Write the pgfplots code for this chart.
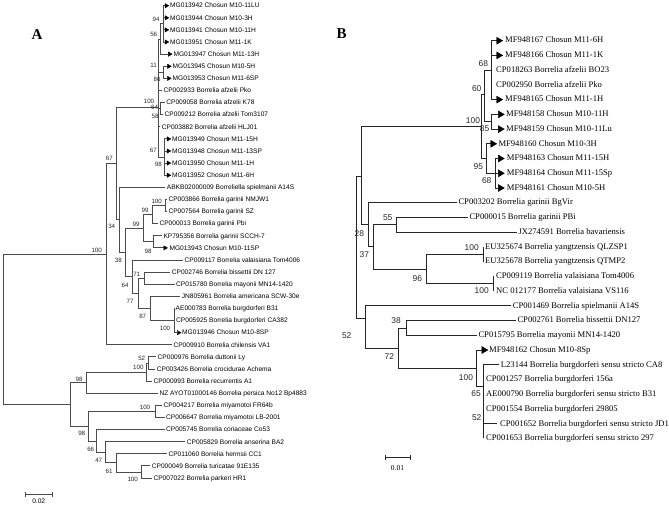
\documentclass[border=0pt]{standalone}
\usepackage{pgfplots}
\pgfplotsset{compat=1.18}
\usepackage{fontspec}
\setmainfont{Liberation Serif}
\setsansfont{Liberation Sans}
\newcommand\fA{\sffamily\fontsize{6.6}{7}\selectfont}
\newcommand\fAn{\sffamily\fontsize{6.2}{7}\selectfont}
\newcommand\fB{\rmfamily\fontsize{8.6}{9}\selectfont}
\newcommand\fBn{\sffamily\fontsize{8.4}{9}\selectfont}
% leaf names and bootstrap values, placed in axis units (= pixels of the reference)
\newcommand\leafA[3]{\node[anchor=mid west,inner sep=0,font=\fA] at (axis cs:#1,#2) {#3};}
\newcommand\leafB[3]{\node[anchor=mid west,inner sep=0,font=\fB] at (axis cs:#1,#2) {#3};}
\newcommand\bsA[3]{\node[inner sep=0,font=\fAn,text=black!85] at (axis cs:#1,#2) {#3};}
\newcommand\bsB[3]{\node[inner sep=0,font=\fBn,text=black!85] at (axis cs:#1,#2) {#3};}
\begin{document}
\begin{tikzpicture}
\begin{axis}[
  width=669pt, height=506pt, scale only axis,
  xmin=0, xmax=669, ymin=0, ymax=506, y dir=reverse,
  hide axis, clip=false, unbounded coords=jump,
]
% ---------------- panel A: branches
\addplot[black!70, line width=0.9pt] coordinates {
 (106,254.2)(3.3,254.2)(3.3,404.4)(70,404.4) (nan,nan)
 (116,163.6)(106,163.6)(106,344.8)(171.5,344.8) (nan,nan)
 (158.3,107.3)(116,107.3)(116,219.9)(119.3,219.9) (nan,nan)
 (165,187.4)(119.3,187.4)(119.3,252.4)(125,252.4) (nan,nan)
 (143.3,228.2)(125,228.2)(125,276.5)(132.7,276.5) (nan,nan)
 (152.5,214.6)(143.3,214.6)(143.3,241.8)(153,241.8) (nan,nan)
 (165.7,205.5)(152.5,205.5)(152.5,223.7)(157.8,223.7) (nan,nan)
 (167,199.5)(165.7,199.5)(165.7,211.6)(167,211.6) (nan,nan)
 (161.5,235.8)(153,235.8)(153,247.9)(163.8,247.9) (nan,nan)
 (183,260)(132.7,260)(132.7,293.3)(138.3,293.3) (nan,nan)
 (144,278.2)(138.3,278.2)(138.3,308.4)(150,308.4) (nan,nan)
 (170,272.1)(144,272.1)(144,284.2)(174.5,284.2) (nan,nan)
 (180,296.3)(150,296.3)(150,320.6)(174,320.6) (nan,nan)
 (174,308.4)(174,332.7)(177.3,332.7) (nan,nan)
 (158.3,39)(158.3,157) (nan,nan)
 (158.3,39)(160.5,39) (nan,nan)
 (163.3,23.85)(160.5,23.85)(160.5,54.1)(168.3,54.1) (nan,nan)
 (163.3,5.7)(163.3,42.0) (nan,nan)
 (163.3,5.7)(165,5.7) (nan,nan) (163.3,17.8)(165,17.8) (nan,nan)
 (163.3,29.9)(165,29.9) (nan,nan) (163.3,42.0)(165,42.0) (nan,nan)
 (158.3,72.3)(163.3,72.3) (nan,nan)
 (167.5,66.3)(163.3,66.3)(163.3,78.4)(167.5,78.4) (nan,nan)
 (158.3,90.5)(161.7,90.5) (nan,nan)
 (158.3,108.7)(160.7,108.7) (nan,nan)
 (164.5,102.6)(160.7,102.6)(160.7,114.7)(163,114.7) (nan,nan)
 (158.3,126.8)(160,126.8) (nan,nan)
 (158.3,157)(164.3,157) (nan,nan)
 (167,138.9)(164.3,138.9)(164.3,175.2)(167,175.2) (nan,nan)
 (164.3,151.0)(167,151.0) (nan,nan) (164.3,163.1)(167,163.1) (nan,nan)
 (86,382.6)(70,382.6)(70,426.2)(88.3,426.2) (nan,nan)
 (146.7,372)(86,372)(86,393.2)(157.5,393.2) (nan,nan)
 (148.3,363)(146.7,363)(146.7,381.1)(152,381.1) (nan,nan)
 (156,356.9)(148.3,356.9)(148.3,369)(155,369) (nan,nan)
 (155,411.4)(88.3,411.4)(88.3,441)(96.7,441) (nan,nan)
 (161.5,405.3)(155,405.3)(155,417.4)(164.5,417.4) (nan,nan)
 (164.5,429.6)(96.7,429.6)(96.7,452.3)(105,452.3) (nan,nan)
 (185,441.7)(105,441.7)(105,462.9)(116,462.9) (nan,nan)
 (166.7,453.8)(116,453.8)(116,472)(141.7,472) (nan,nan)
 (150,465.9)(141.7,465.9)(141.7,478)(151.7,478) (nan,nan)
 (25,494.3)(52.3,494.3) (nan,nan) (25,492)(25,496.6) (nan,nan) (52.3,492)(52.3,496.6)
};
\addplot[only marks, mark=triangle*, mark size=2.5pt, black,
  every mark/.append style={rotate=-90}] coordinates {
 (166.3,5.7)(166.3,17.8)(166.3,29.9)(166.3,42.0)(169.6,54.1)
 (168.7,66.3)(168.7,78.4)
 (168.3,138.9)(168.3,151.0)(168.3,163.1)(168.3,175.2)
 (165,247.9)(178.5,332.7)
};
% ---------------- panel B: branches
\addplot[black!85, line width=0.9pt] coordinates {
 (361.7,176.7)(356.7,176.7)(356.7,318.3)(365,318.3) (nan,nan)
 (481.7,126.7)(361.7,126.7)(361.7,224.7)(368.3,224.7) (nan,nan)
 (456.5,202.7)(368.3,202.7)(368.3,246.7)(373.3,246.7) (nan,nan)
 (396.7,224.8)(373.3,224.8)(373.3,269.3)(426.7,269.3) (nan,nan)
 (467.5,217.5)(396.7,217.5)(396.7,232.2)(516.5,232.2) (nan,nan)
 (483.3,254.3)(426.7,254.3)(426.7,283.8)(493.3,283.8) (nan,nan)
 (483.3,246.9)(483.3,261.7) (nan,nan)
 (493.3,276.4)(493.3,291.1) (nan,nan)
 (511,305.8)(365,305.8)(365,348.3)(398.3,348.3) (nan,nan)
 (406,328)(398.3,328)(398.3,368.3)(476.7,368.3) (nan,nan)
 (515.5,320.6)(406,320.6)(406,335.3)(476.5,335.3) (nan,nan)
 (481.7,350)(476.7,350)(476.7,386.7)(483.3,386.7) (nan,nan)
 (483.3,364.8)(483.3,438.4) (nan,nan)
 (483.3,364.8)(498.5,364.8) (nan,nan) (483.3,423.7)(496.5,423.7) (nan,nan)
 (484,94.9)(481.7,94.9)(481.7,158.5)(486.7,158.5) (nan,nan)
 (491.5,70.2)(484,70.2)(484,121.7)(491.7,121.7) (nan,nan)
 (496.7,40.7)(491.5,40.7)(491.5,99.6)(496.7,99.6) (nan,nan)
 (491.5,55.4)(496.7,55.4) (nan,nan)
 (498.3,114.4)(491.7,114.4)(491.7,129.1)(498.3,129.1) (nan,nan)
 (490.7,143.8)(486.7,143.8)(486.7,173.3)(495.7,173.3) (nan,nan)
 (498.3,158.5)(495.7,158.5)(495.7,188)(498.3,188) (nan,nan)
 (495.7,173.3)(498.3,173.3) (nan,nan)
 (385,457.7)(410,457.7) (nan,nan) (385,455.2)(385,460.2) (nan,nan) (410,455.2)(410,460.2)
};
\addplot[only marks, mark=triangle*, mark size=4pt, black,
  every mark/.append style={rotate=-90}] coordinates {
 (498.7,40.7)(498.7,55.4)(498.7,99.6)(500.3,114.4)(500.3,129.1)
 (492.7,143.8)(500.3,158.5)(500.3,173.3)(500.3,188.0)(483.9,350.0)
};
% ---------------- panel A: texts
\node[font=\rmfamily\bfseries\fontsize{15}{15}\selectfont] at (axis cs:37,35) {A};
\leafA{170}{5.7}{MG013942 Chosun M10-11LU}
\leafA{170}{17.8}{MG013944 Chosun M10-3H}
\leafA{170}{29.9}{MG013941 Chosun M10-11H}
\leafA{170}{42.0}{MG013951 Chosun M11-1K}
\leafA{173.3}{54.1}{MG013947 Chosun M11-13H}
\leafA{172.5}{66.3}{MG013945 Chosun M10-5H}
\leafA{172.5}{78.4}{MG013953 Chosun M11-6SP}
\leafA{163.3}{90.5}{CP002933 Borrelia afzelii Pko}
\leafA{166.2}{102.6}{CP009058 Borrelia afzelii K78}
\leafA{164.5}{114.7}{CP009212 Borrelia afzelii Tom3107}
\leafA{161.7}{126.8}{CP003882 Borrelia afzelii HLJ01}
\leafA{172}{138.9}{MG013949 Chosun M11-15H}
\leafA{172}{151.0}{MG013948 Chosun M11-13SP}
\leafA{172}{163.1}{MG013950 Chosun M11-1H}
\leafA{172}{175.2}{MG013952 Chosun M11-6H}
\leafA{166.7}{187.4}{ABKB02000009 Borreliella spielmanii A14S}
\leafA{168.3}{199.5}{CP003866 Borrelia garinii NMJW1}
\leafA{168.3}{211.6}{CP007564 Borrelia garinii SZ}
\leafA{159.3}{223.7}{CP000013 Borrelia garinii Pbi}
\leafA{163.3}{235.8}{KP795356 Borrelia garinii SCCH-7}
\leafA{169.3}{247.9}{MG013943 Chosun M10-11SP}
\leafA{184.5}{260.0}{CP009117 Borrelia valaisiana Tom4006}
\leafA{171.7}{272.1}{CP002746 Borrelia bissettii DN 127}
\leafA{176}{284.2}{CP015780 Borrelia mayonii MN14-1420}
\leafA{181.7}{296.3}{JN805961 Borrelia americana SCW-30e}
\leafA{175.5}{308.4}{AE000783 Borrelia burgdorferi B31}
\leafA{176}{320.6}{CP005925 Borrelia burgdorferi CA382}
\leafA{182}{332.7}{MG013946 Chosun M10-8SP}
\leafA{173.3}{344.8}{CP009910 Borrelia chilensis VA1}
\leafA{157.5}{356.9}{CP000976 Borrelia duttonii Ly}
\leafA{156.7}{369.0}{CP003426 Borrelia crocidurae Achema}
\leafA{153.3}{381.1}{CP000993 Borrelia recurrentis A1}
\leafA{159.3}{393.2}{NZ AYOT01000146 Borrelia persica No12 Bp4883}
\leafA{163.3}{405.3}{CP004217 Borrelia miyamotoi FR64b}
\leafA{166}{417.4}{CP006647 Borrelia miyamotoi LB-2001}
\leafA{166}{429.6}{CP005745 Borrelia coriaceae Co53}
\leafA{186.7}{441.7}{CP005829 Borrelia anserina BA2}
\leafA{168.3}{453.8}{CP011060 Borrelia hermsii CC1}
\leafA{151.7}{465.9}{CP000049 Borrelia turicatae 91E135}
\leafA{153.3}{478.0}{CP007022 Borrelia parkeri HR1}
\bsA{156}{19}{94}
\bsA{153.7}{34.3}{56}
\bsA{153.7}{65}{11}
\bsA{157}{79.3}{86}
\bsA{149}{101.7}{100}
\bsA{154.5}{107.7}{64}
\bsA{155}{116.7}{58}
\bsA{153.3}{150}{67}
\bsA{158.3}{164}{98}
\bsA{109.3}{158.3}{67}
\bsA{96.7}{250}{100}
\bsA{111.7}{226.7}{34}
\bsA{156.7}{201}{100}
\bsA{145}{210}{99}
\bsA{136}{224}{99}
\bsA{148}{251}{98}
\bsA{118.3}{260}{38}
\bsA{125}{285}{64}
\bsA{136.7}{274.3}{71}
\bsA{130}{301}{77}
\bsA{142.7}{316}{87}
\bsA{165}{328.3}{100}
\bsA{141.7}{358.3}{52}
\bsA{138.3}{367.3}{100}
\bsA{79}{379}{98}
\bsA{145}{407.7}{100}
\bsA{81.7}{433}{98}
\bsA{90.7}{449}{66}
\bsA{98.7}{460}{47}
\bsA{109}{471}{61}
\bsA{132.7}{479}{100}
\node[font=\fA] at (axis cs:38.7,501.5) {0.02};
% ---------------- panel B: texts
\node[font=\rmfamily\bfseries\fontsize{15}{15}\selectfont] at (axis cs:341.7,33.3) {B};
\leafB{505}{40.7}{MF948167 Chosun M11-6H}
\leafB{505}{55.4}{MF948166 Chosun M11-1K}
\leafB{496}{70.2}{CP018263 Borrelia afzelii BO23}
\leafB{496}{84.9}{CP002950 Borrelia afzelii Pko}
\leafB{505}{99.6}{MF948165 Chosun M11-1H}
\leafB{506}{114.4}{MF948158 Chosun M10-11H}
\leafB{506}{129.1}{MF948159 Chosun M10-11Lu}
\leafB{498.3}{143.8}{MF948160 Chosun M10-3H}
\leafB{506.7}{158.5}{MF948163 Chosun M11-15H}
\leafB{506.7}{173.3}{MF948164 Chosun M11-15Sp}
\leafB{506.7}{188.0}{MF948161 Chosun M10-5H}
\leafB{458.3}{202.7}{CP003202 Borrelia garinii BgVir}
\leafB{469.3}{217.5}{CP000015 Borrelia garinii PBi}
\leafB{518.3}{232.2}{JX274591 Borrelia bavariensis}
\leafB{485}{246.9}{EU325674 Borrelia yangtzensis QLZSP1}
\leafB{485}{261.7}{EU325678 Borrelia yangtzensis QTMP2}
\leafB{496}{276.4}{CP009119 Borrelia valaisiana Tom4006}
\leafB{496}{291.1}{NC 012177 Borrelia valaisiana VS116}
\leafB{512.7}{305.8}{CP001469 Borrelia spielmanii A14S}
\leafB{517.3}{320.6}{CP002761 Borrelia bissettii DN127}
\leafB{478.3}{335.3}{CP015795 Borrelia mayonii MN14-1420}
\leafB{489}{350.0}{MF948162 Chosun M10-8Sp}
\leafB{500.7}{364.8}{L23144 Borrelia burgdorferi sensu stricto CA8}
\leafB{486}{379.5}{CP001257 Borrelia burgdorferi 156a}
\leafB{486}{394.2}{AE000790 Borrelia burgdorferi sensu stricto B31}
\leafB{486}{408.9}{CP001554 Borrelia burgdorferi 29805}
\leafB{500}{423.7}{CP001652 Borrelia burgdorferi sensu stricto JD1}
\leafB{486}{438.4}{CP001653 Borrelia burgdorferi sensu stricto 297}
\bsB{483.3}{63.3}{68}
\bsB{476.7}{88.3}{60}
\bsB{473}{120.7}{100}
\bsB{484.5}{129}{85}
\bsB{478.3}{166.7}{95}
\bsB{486.7}{181}{68}
\bsB{359.3}{233.3}{28}
\bsB{387.7}{217.3}{55}
\bsB{364.3}{255}{37}
\bsB{417.3}{278.3}{96}
\bsB{471.7}{247.3}{100}
\bsB{481.7}{290.7}{100}
\bsB{346.7}{335.7}{52}
\bsB{396}{320.7}{38}
\bsB{389.3}{356.7}{72}
\bsB{466}{377.3}{100}
\bsB{476}{394}{65}
\bsB{476.7}{417.3}{52}
\node[font=\rmfamily\fontsize{7.5}{8}\selectfont] at (axis cs:397.5,467.7) {0.01};
\end{axis}
\pgfresetboundingbox
\path[use as bounding box] (current axis.south west) rectangle (current axis.north east);
\end{tikzpicture}
\end{document}
